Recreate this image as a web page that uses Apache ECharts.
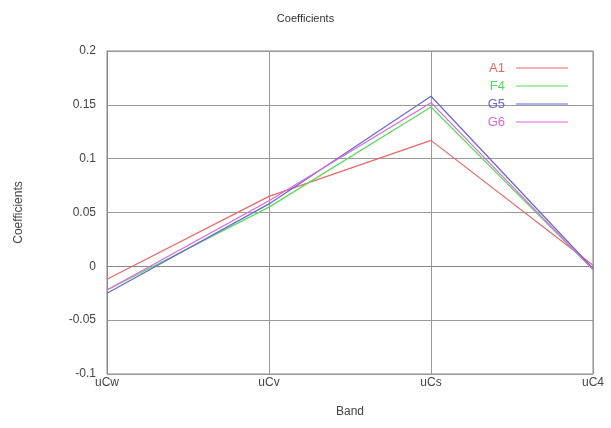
<!DOCTYPE html>
<html><head><meta charset="utf-8">
<script src="https://cdn.jsdelivr.net/npm/echarts@6/dist/echarts.min.js"></script>
<style>html,body{margin:0;padding:0;background:#fff}#c{width:611px;height:428px}</style>
</head><body><div id="c"></div>
<script>
const categories = ['uCw', 'uCv', 'uCs', 'uC4'];
const seriesNames = ['A1', 'F4', 'G5', 'G6'];
const A1 = [-0.012, 0.065, 0.117, 0.001];
const F4 = [-0.022, 0.055, 0.148, -0.003];
const G5 = [-0.025, 0.058, 0.158, -0.002];
const G6 = [-0.022, 0.061, 0.152, -0.003];
const yTicks = [-0.1, -0.05, 0, 0.05, 0.1, 0.15, 0.2];
const colors = ['#ee6666', '#55dd55', '#6666dd', '#dd66dd'];
const values = [A1, F4, G5, G6];

const chart = echarts.init(document.getElementById('c'));
const font = 'Liberation Sans, Arial, sans-serif';
chart.setOption({
  animation: false,
  backgroundColor: '#fff',
  title: { text: 'Coefficients', left: 'center', top: 8,
    textStyle: { fontFamily: font, fontSize: 11, fontWeight: 'normal', color: '#333' } },
  legend: {
    top: 56, right: 38, orient: 'vertical', align: 'right', itemGap: 4,
    itemWidth: 52, itemHeight: 1.2, icon: 'rect',
    textStyle: { fontFamily: font, fontSize: 13, lineHeight: 14, padding: [0, 6, 0, 0] },
    data: seriesNames.map((n, i) => ({ name: n, icon: 'rect',
      itemStyle: { color: colors[i] }, textStyle: { color: colors[i] } }))
  },
  grid: { left: 107, right: 18, top: 51, bottom: 54, show: true, borderColor: '#888', borderWidth: 1 },
  xAxis: {
    type: 'category', data: categories, boundaryGap: false,
    name: 'Band', nameLocation: 'middle', nameGap: 32,
    nameTextStyle: { fontFamily: font, fontSize: 12, color: '#444' },
    axisLine: { lineStyle: { color: '#888' } },
    axisTick: { show: false },
    axisLabel: { fontFamily: font, fontSize: 12, color: '#444', margin: 3, showMaxLabel: true },
    splitLine: { show: true, lineStyle: { color: '#999', width: 1 } }
  },
  yAxis: {
    type: 'value', min: yTicks[0], max: yTicks[yTicks.length - 1], interval: 0.05,
    name: 'Coefficients', nameLocation: 'middle', nameGap: 82, nameRotate: 90,
    nameTextStyle: { fontFamily: font, fontSize: 12, color: '#444' },
    axisLine: { show: true, lineStyle: { color: '#888' } },
    axisTick: { show: false },
    axisLabel: { fontFamily: font, fontSize: 12, color: '#444', margin: 11,
      formatter: v => { const r = Math.round(v * 100) / 100; return String(r); } },
    splitLine: { show: true, lineStyle: { color: '#999', width: 1 } }
  },
  series: seriesNames.map((n, i) => ({
    name: n, type: 'line', data: values[i], symbol: 'none',
    lineStyle: { color: colors[i], width: 1.2 }, itemStyle: { color: colors[i] }
  }))
});
</script></body></html>
